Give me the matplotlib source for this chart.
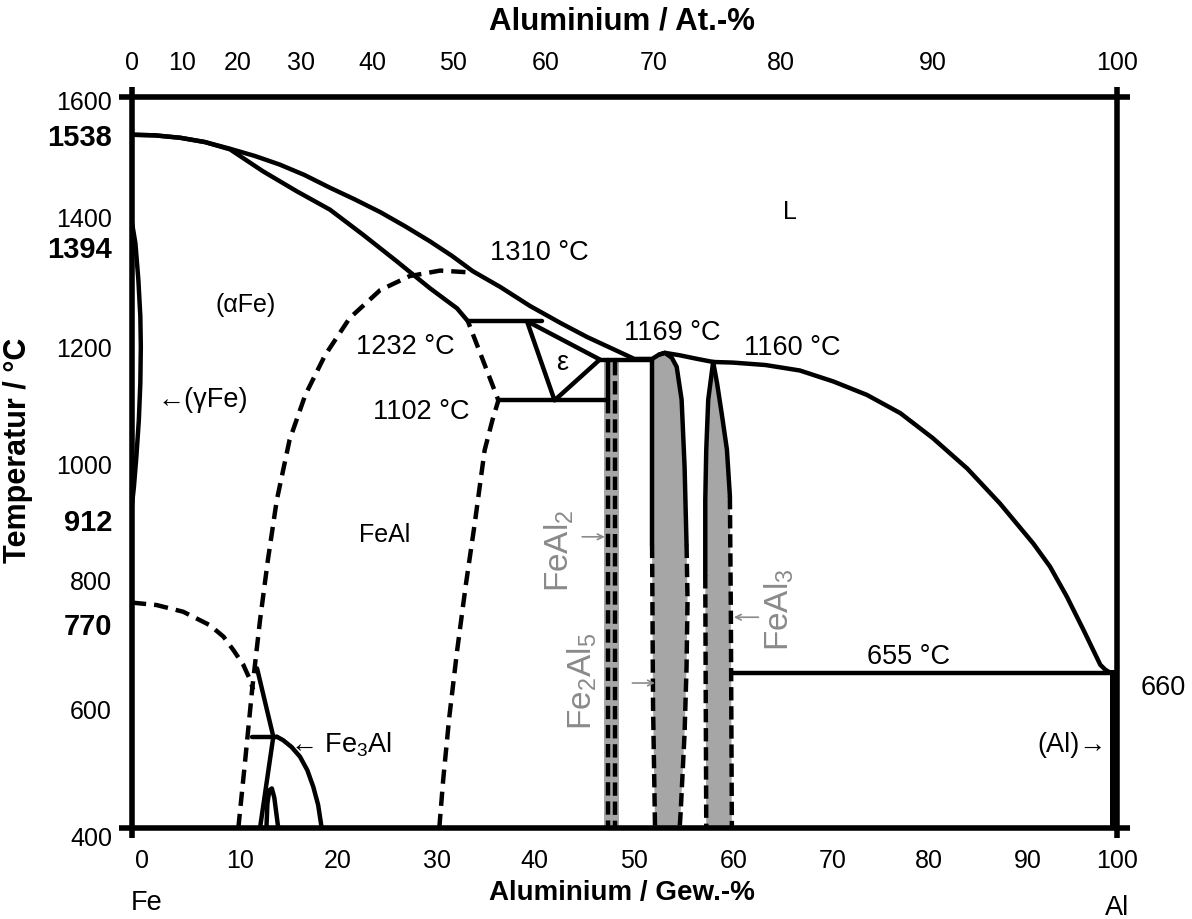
import numpy as np
import matplotlib.pyplot as plt

plt.rcParams['font.family'] = ['Liberation Sans', 'DejaVu Sans']
plt.rcParams['mathtext.default'] = 'regular'

# --- phase boundaries, wt.-% Al / temperature in °C ---
liq_wt = [0, 2.3, 4.9, 7.4, 9.95, 12.5, 15.0, 17.5, 20.1, 22.6, 25.2, 27.7, 30.25, 32.5, 34.6,
          37.4, 40.4, 43.5, 46.2, 49.0, 51.0, 52.8, 53.5, 54.1, 55.6, 57.4, 59.0, 61.0, 64.3,
          67.8, 69.5, 71.2, 74.6, 78.0, 81.3, 84.8, 88.1, 91.5, 93.2, 94.9, 96.6, 98.3, 98.8, 99.3]
liq_T = [1538, 1537, 1533, 1526, 1515, 1503, 1489, 1472, 1451, 1432, 1411, 1388, 1363, 1339, 1314,
         1288, 1257, 1229, 1206, 1185, 1170, 1170, 1177, 1180, 1176, 1170, 1165, 1164, 1160,
         1151, 1142, 1133, 1111, 1081, 1040, 990, 933, 867, 829, 780, 725, 668, 660, 655]

sol_wt = [0, 2.3, 4.9, 7.4, 9.95, 13.3, 16.75, 20.1, 23.45, 26.9, 30.25, 33.0, 34.1]
sol_T = [1538, 1537, 1533, 1526, 1514, 1478, 1445, 1415, 1374, 1330, 1286, 1253, 1232]

gam_wt = [0, 0.35, 0.65, 0.85, 0.9, 0.85, 0.7, 0.45, 0.2, 0]
gam_T = [1394, 1360, 1300, 1240, 1190, 1130, 1070, 1010, 960, 930]

curie_wt = [0, 2.5, 5.2, 7.9, 9.3, 10.3, 11.3, 12.0, 12.3]
curie_T = [770, 766, 755, 733, 714, 692, 668, 643, 627]

b2_wt = [10.8, 11.5, 12.2, 13.0, 13.8, 14.7, 16.0, 17.6, 19.6, 22.1, 25.2, 28.2, 31.3, 34.3]
b2_T = [400, 512, 627, 741, 840, 938, 1037, 1111, 1176, 1237, 1283, 1306, 1315, 1312]

feal_wt = [31.2, 31.6, 32.2, 33.0, 33.9, 34.8, 35.8, 36.6, 37.2, 34.1]
feal_T = [400, 480, 580, 690, 800, 900, 1020, 1070, 1102, 1232]

eps_wt = [40.1, 42.9, 47.5, 40.1]
eps_T = [1232, 1102, 1169, 1232]

# invariant lines
iso1232_wt, iso1232_T = [34.1, 41.6], 1232
iso1102_wt, iso1102_T = [37.2, 48.3], 1102
iso1169_wt, iso1169_T = [47.5, 52.8], 1169
iso655_wt, iso655_T = [61.0, 99.3], 655

# FeAl2 band
feal2_fill = [47.9, 49.4]
feal2_top = 1169
feal2_l_wt, feal2_r_wt = 48.3, 49.0

# Fe2Al5
fe2al5_l_solid_wt, fe2al5_l_solid_T = [52.8, 52.8], [1169, 865]
fe2al5_l_dash_wt, fe2al5_l_dash_T = [52.8, 52.9, 53.1], [865, 600, 400]
fe2al5_r_solid_wt = [53.5, 54.1, 54.8, 55.3, 55.8, 56.1, 56.3]
fe2al5_r_solid_T = [1177, 1180, 1172, 1157, 1103, 993, 865]
fe2al5_r_dash_wt = [56.3, 56.4, 56.3, 56.1, 55.7, 55.6]
fe2al5_r_dash_T = [865, 774, 664, 556, 425, 400]

# FeAl3
feal3_l_solid_wt = [59.0, 58.5, 58.3, 58.2, 58.2]
feal3_l_solid_T = [1165, 1103, 1021, 938, 815]
feal3_l_dash_wt, feal3_l_dash_T = [58.2, 58.3], [815, 400]
feal3_r_solid_wt = [59.0, 59.4, 59.9, 60.4, 60.7]
feal3_r_solid_T = [1165, 1130, 1077, 1021, 945]
feal3_r_dash_wt, feal3_r_dash_T = [60.7, 60.8, 60.9], [945, 750, 400]

# Fe3Al
fe3al_a_wt, fe3al_a_T = [12.7, 14.35, 13.0], [662, 550, 400]
fe3al_h_wt, fe3al_h_T = [12.15, 14.7], 550
fe3al_c_wt = [14.7, 15.36, 16.2, 17.06, 17.8, 18.4, 18.9, 19.26]
fe3al_c_T = [550, 544, 533, 517, 495, 468, 438, 400]
fe3al_b_wt = [13.65, 13.75, 13.95, 14.2, 14.45, 14.65, 14.85]
fe3al_b_T = [400, 440, 462, 465, 450, 425, 400]

# (Al) solid solution
al_wt = [99.3, 100]
al_T = [400, 660]

# axis labels
gew_labels = ['0', '10', '20', '30', '40', '50', '60', '70', '80', '90', '100']
gew_pos = [1.0, 11.0, 20.9, 31.0, 40.9, 51.0, 61.1, 71.1, 80.9, 90.9, 100]
at_labels = [0, 10, 20, 30, 40, 50, 60, 70, 80, 90, 100]
y_labels = ['1600', '1538', '1400', '1394', '1200', '1000', '912', '800', '770', '600', '400']
y_pos = [1590, 1533, 1398, 1349, 1185, 993, 901, 802, 730, 590, 382]
y_bold = [False, True, False, True, False, False, True, False, True, False, False]

M_FE, M_AL = 55.845, 26.982
at = np.array(at_labels, dtype=float)
at_pos = 100 * at * M_AL / (at * M_AL + (100 - at) * M_FE)

fig = plt.figure(figsize=(11.92, 9.19), dpi=100)
ax = fig.add_axes([0.1107, 0.0990, 0.8264, 0.7955])
ax.set_xlim(0, 100)
ax.set_ylim(400, 1600)
for s in ax.spines.values():
    s.set_visible(False)
ax.set_xticks([])
ax.set_yticks([])

LW = 3.2
DASH = (0, (3.2, 1.8))
DASH2 = (0, (3.0, 1.3))
GREY = '#a6a6a6'
TGREY = '#8a8a8a'
FS_TICK = 18
FS_TICKB = 21
FS = 19.5
FS_SMALL = 18
FS_GREY = 24

# frame with crossing corners
ax.plot([-1.3, 101.3], [1600, 1600], color='k', lw=4, clip_on=False, solid_capstyle='butt')
ax.plot([-1.3, 101.3], [400, 400], color='k', lw=4, clip_on=False, solid_capstyle='butt')
ax.plot([0, 0], [384, 1616], color='k', lw=4, clip_on=False, solid_capstyle='butt')
ax.plot([100, 100], [384, 1616], color='k', lw=4, clip_on=False, solid_capstyle='butt')

# grey intermetallic regions
ax.fill_between(feal2_fill, 400, feal2_top, color=GREY, lw=0)
ax.fill(fe2al5_l_dash_wt[::-1] + fe2al5_l_solid_wt[::-1] + fe2al5_r_solid_wt + fe2al5_r_dash_wt[1:],
        fe2al5_l_dash_T[::-1] + fe2al5_l_solid_T[::-1] + fe2al5_r_solid_T + fe2al5_r_dash_T[1:],
        color=GREY, lw=0)
ax.fill(feal3_l_dash_wt[::-1] + feal3_l_solid_wt[::-1] + feal3_r_solid_wt + feal3_r_dash_wt[1:],
        feal3_l_dash_T[::-1] + feal3_l_solid_T[::-1] + feal3_r_solid_T + feal3_r_dash_T[1:],
        color=GREY, lw=0)

solid = dict(color='k', lw=LW, solid_joinstyle='round', solid_capstyle='round')
dashed = dict(color='k', lw=LW, linestyle=DASH, dash_capstyle='butt')
dashed2 = dict(color='k', lw=LW, linestyle=DASH2, dash_capstyle='butt')

ax.plot(liq_wt, liq_T, **solid)
ax.plot(sol_wt, sol_T, **solid)
ax.plot(gam_wt, gam_T, **solid)
ax.plot(curie_wt, curie_T, **dashed)
ax.plot(b2_wt, b2_T, **dashed)
ax.plot(feal_wt, feal_T, **dashed)
ax.plot(eps_wt, eps_T, **solid)
ax.plot(iso1232_wt, [iso1232_T] * 2, **solid)
ax.plot(iso1102_wt, [iso1102_T] * 2, **solid)
ax.plot(iso1169_wt, [iso1169_T] * 2, **solid)
ax.plot(iso655_wt, [iso655_T] * 2, **solid)

ax.plot([feal2_l_wt] * 2, [feal2_top, iso1102_T], **solid)
ax.plot([feal2_l_wt] * 2, [iso1102_T, 400], **dashed2)
ax.plot([feal2_r_wt] * 2, [feal2_top - 4, 400], **dashed2)

ax.plot(fe2al5_l_solid_wt, fe2al5_l_solid_T, **solid)
ax.plot(fe2al5_l_dash_wt, fe2al5_l_dash_T, **dashed2)
ax.plot(fe2al5_r_solid_wt, fe2al5_r_solid_T, **solid)
ax.plot(fe2al5_r_dash_wt, fe2al5_r_dash_T, **dashed2)

ax.plot(feal3_l_solid_wt, feal3_l_solid_T, **solid)
ax.plot(feal3_l_dash_wt, feal3_l_dash_T, **dashed2)
ax.plot(feal3_r_solid_wt, feal3_r_solid_T, **solid)
ax.plot(feal3_r_dash_wt, feal3_r_dash_T, **dashed2)

ax.plot(fe3al_a_wt, fe3al_a_T, **solid)
ax.plot(fe3al_h_wt, [fe3al_h_T] * 2, **solid)
ax.plot(fe3al_c_wt, fe3al_c_T, **solid)
ax.plot(fe3al_b_wt, fe3al_b_T, **solid)

ax.fill_between(al_wt, al_T[0], al_T[1], color='k', lw=0)

# in-plot labels
ax.text(66.8, 1411, 'L', fontsize=FS_SMALL, ha='center', va='center')
ax.text(11.5, 1259, '(αFe)', fontsize=FS_SMALL, ha='center', va='center')
ax.text(41.4, 1344, '1310 °C', fontsize=FS, ha='center', va='center')
ax.text(27.7, 1190, '1232 °C', fontsize=FS, ha='center', va='center')
ax.text(43.7, 1163, 'ε', fontsize=FS, ha='center', va='center')
ax.text(54.8, 1213, '1169 °C', fontsize=FS, ha='center', va='center')
ax.text(67.0, 1188, '1160 °C', fontsize=FS, ha='center', va='center')
ax.text(29.4, 1083, '1102 °C', fontsize=FS, ha='center', va='center')
ax.text(2.6, 1103, '←(γFe)', fontsize=FS, ha='left', va='center')
ax.text(25.7, 881, 'FeAl', fontsize=FS_SMALL, ha='center', va='center')
ax.text(78.8, 681, '655 °C', fontsize=FS, ha='center', va='center')
ax.text(99.0, 536, '(Al)→', fontsize=FS, ha='right', va='center')
ax.text(16.0, 536, '← Fe$_3$Al', fontsize=FS, ha='left', va='center')

ax.text(43.4, 856, 'FeAl$_2$', fontsize=FS_GREY, color=TGREY, rotation=90, ha='center', va='center')
ax.text(45.7, 640, 'Fe$_2$Al$_5$', fontsize=FS_GREY, color=TGREY, rotation=90, ha='center', va='center')
ax.text(65.7, 758, 'FeAl$_3$', fontsize=FS_GREY, color=TGREY, rotation=90, ha='center', va='center')
arrow = dict(arrowstyle='->', color=TGREY, lw=1.2, shrinkA=0, shrinkB=0)
ax.annotate('', xy=(48.0, 878), xytext=(45.7, 878), arrowprops=arrow)
ax.annotate('', xy=(53.1, 638), xytext=(50.8, 638), arrowprops=arrow)
ax.annotate('', xy=(61.1, 746), xytext=(63.6, 746), arrowprops=arrow)

ax.text(1.0467, 630, '660', fontsize=FS, ha='center', va='center',
        transform=ax.get_yaxis_transform(), clip_on=False)

# tick labels
for lab, yp, b in zip(y_labels, y_pos, y_bold):
    ax.text(-0.0203, yp, lab, fontsize=FS_TICKB if b else FS_TICK, ha='right', va='center',
            fontweight='bold' if b else 'normal', transform=ax.get_yaxis_transform())
for lab, xp in zip(gew_labels, gew_pos):
    ax.text(xp, -0.0455, lab, fontsize=FS_TICK, ha='center', va='center',
            transform=ax.get_xaxis_transform())
for lab, xp in zip(at_labels, at_pos):
    ax.text(xp, 1.0465, str(lab), fontsize=FS_TICK, ha='center', va='center',
            transform=ax.get_xaxis_transform())

ax.text(0.4975, -0.0889, 'Aluminium / Gew.-%', fontsize=20, fontweight='bold',
        ha='center', va='center', transform=ax.transAxes)
ax.text(0.4975, 1.1026, 'Aluminium / At.-%', fontsize=22.5, fontweight='bold',
        ha='center', va='center', transform=ax.transAxes)
ax.text(-0.1157, 0.517, 'Temperatur / °C', fontsize=22, fontweight='bold', rotation=90,
        ha='center', va='center', transform=ax.transAxes)
ax.text(0.0152, -0.1026, 'Fe', fontsize=FS, ha='center', va='center', transform=ax.transAxes)
ax.text(1.0, -0.109, 'Al', fontsize=FS, ha='center', va='center', transform=ax.transAxes)

fig.savefig('out.png', dpi=100)
